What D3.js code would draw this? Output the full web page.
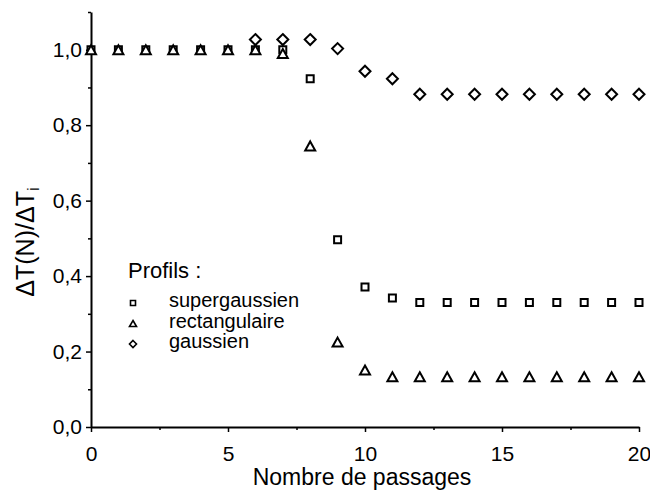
<!DOCTYPE html>
<html><head><meta charset="utf-8">
<script src="https://cdn.jsdelivr.net/npm/d3@7"></script>
<style>
body{margin:0;background:#fff}
svg text{font-family:"Liberation Sans",Arial,Helvetica,sans-serif;fill:#000}
</style>
</head><body>
<svg id="c" width="650" height="500"></svg>
<script>
// ---- data ----
const passages = [0,1,2,3,4,5,6,7,8,9,10,11,12,13,14,15,16,17,18,19,20];
const supergaussien = [1.0,1.0,1.0,1.0,1.0,1.0,1.0,1.0,0.923,0.496,0.371,0.342,0.33,0.33,0.33,0.33,0.33,0.33,0.33,0.33,0.33];
const rectangulaire = [1.0,1.0,1.0,1.0,1.0,1.0,1.0,0.99,0.745,0.225,0.151,0.133,0.133,0.133,0.133,0.133,0.133,0.133,0.133,0.133,0.133];
const gaussien = [null,null,null,null,null,null,1.027,1.027,1.027,1.003,0.943,0.923,0.882,0.882,0.882,0.882,0.882,0.882,0.882,0.882,0.882];
const xMajorTicks = [0,5,10,15,20];
const xMinorTicks = [2.5,7.5,12.5,17.5];
const yMajorTicks = [0,0.2,0.4,0.6,0.8,1.0];
const yMinorTicks = [0.1,0.3,0.5,0.7,0.9,1.1];
const legendTitle = "Profils :";
const legendLabels = ["supergaussien","rectangulaire","gaussien"];
const xTitle = "Nombre de passages";

// ---- scales ----
const svg = d3.select("#c");
const FONT = '"Liberation Sans",Arial,Helvetica,sans-serif';
const x = d3.scaleLinear().domain([0,20]).range([91,639]);
const y = d3.scaleLinear().domain([0,1.1]).range([427,12]);
const fmt = d => d3.format(".1f")(d).replace(".", ",");

// ---- axes ----
function styleAxis(g){
  g.attr("font-family", FONT).attr("font-size", 21);
  g.select(".domain").attr("stroke","#000").attr("stroke-width",2);
  g.selectAll(".tick line").attr("stroke","#000").attr("stroke-width",1.5);
  g.selectAll(".tick text").attr("fill","#000");
}
const gy = svg.append("g").attr("transform","translate(91,0)")
  .call(d3.axisLeft(y).tickValues(yMajorTicks).tickFormat(fmt).tickSize(5).tickSizeOuter(0).tickPadding(4));
styleAxis(gy);
const gyMinor = svg.append("g").attr("transform","translate(91,0)")
  .call(d3.axisLeft(y).tickValues(yMinorTicks).tickFormat("").tickSize(3).tickSizeOuter(0));
styleAxis(gyMinor); gyMinor.select(".domain").remove();

const gx = svg.append("g").attr("transform","translate(0,427)")
  .call(d3.axisBottom(x).tickValues(xMajorTicks).tickFormat(d3.format("d")).tickSize(5).tickSizeOuter(0).tickPadding(14));
styleAxis(gx);
const gxMinor = svg.append("g").attr("transform","translate(0,427)")
  .call(d3.axisBottom(x).tickValues(xMinorTicks).tickFormat("").tickSize(3).tickSizeOuter(0));
styleAxis(gxMinor); gxMinor.select(".domain").remove();

// ---- axis titles ----
svg.append("text").attr("x",362).attr("y",485).attr("text-anchor","middle")
  .style("font-size","23px").text(xTitle);

const yt = svg.append("text").attr("transform","translate(34,242) rotate(-90)")
  .attr("text-anchor","middle").style("font-size","25px");
yt.append("tspan").text("\u0394T(N)/\u0394T");
yt.append("tspan").attr("dy","0.3em").style("font-size","17px").text("i");

// ---- marker shapes ----
const sq = s => `M${-s/2},${-s/2}h${s}v${s}h${-s}Z`;
const tri = (w,h) => `M0,${-h/2}L${w/2},${h/2}L${-w/2},${h/2}Z`;
const dia = (w,h) => `M0,${-h/2}L${w/2},0L0,${h/2}L${-w/2},0Z`;

const series = [
  {vals: supergaussien, path: sq(7)},
  {vals: rectangulaire, path: tri(10,9)},
  {vals: gaussien, path: dia(11,11)}
];
series.forEach(s => {
  const pts = passages.map((n,i)=>({n, v:s.vals[i]})).filter(d=>d.v!==null);
  svg.append("g").selectAll("path").data(pts).join("path")
    .attr("transform", d=>`translate(${x(d.n)},${y(d.v)})`)
    .attr("d", s.path)
    .attr("fill","#fff").attr("stroke","#000").attr("stroke-width",2);
});

// ---- legend ----
svg.append("text").attr("x",128).attr("y",278).style("font-size","22px").text(legendTitle);
const legendPaths = [sq(5), tri(7,6), dia(7,7)];
legendLabels.forEach((lab,i)=>{
  const by = 307 + i*20.5;
  svg.append("path").attr("transform",`translate(133,${by-4})`).attr("d",legendPaths[i])
    .attr("fill","#fff").attr("stroke","#000").attr("stroke-width",1.6);
  svg.append("text").attr("x",169).attr("y",by).style("font-size","20px").text(lab);
});
</script>
</body></html>
